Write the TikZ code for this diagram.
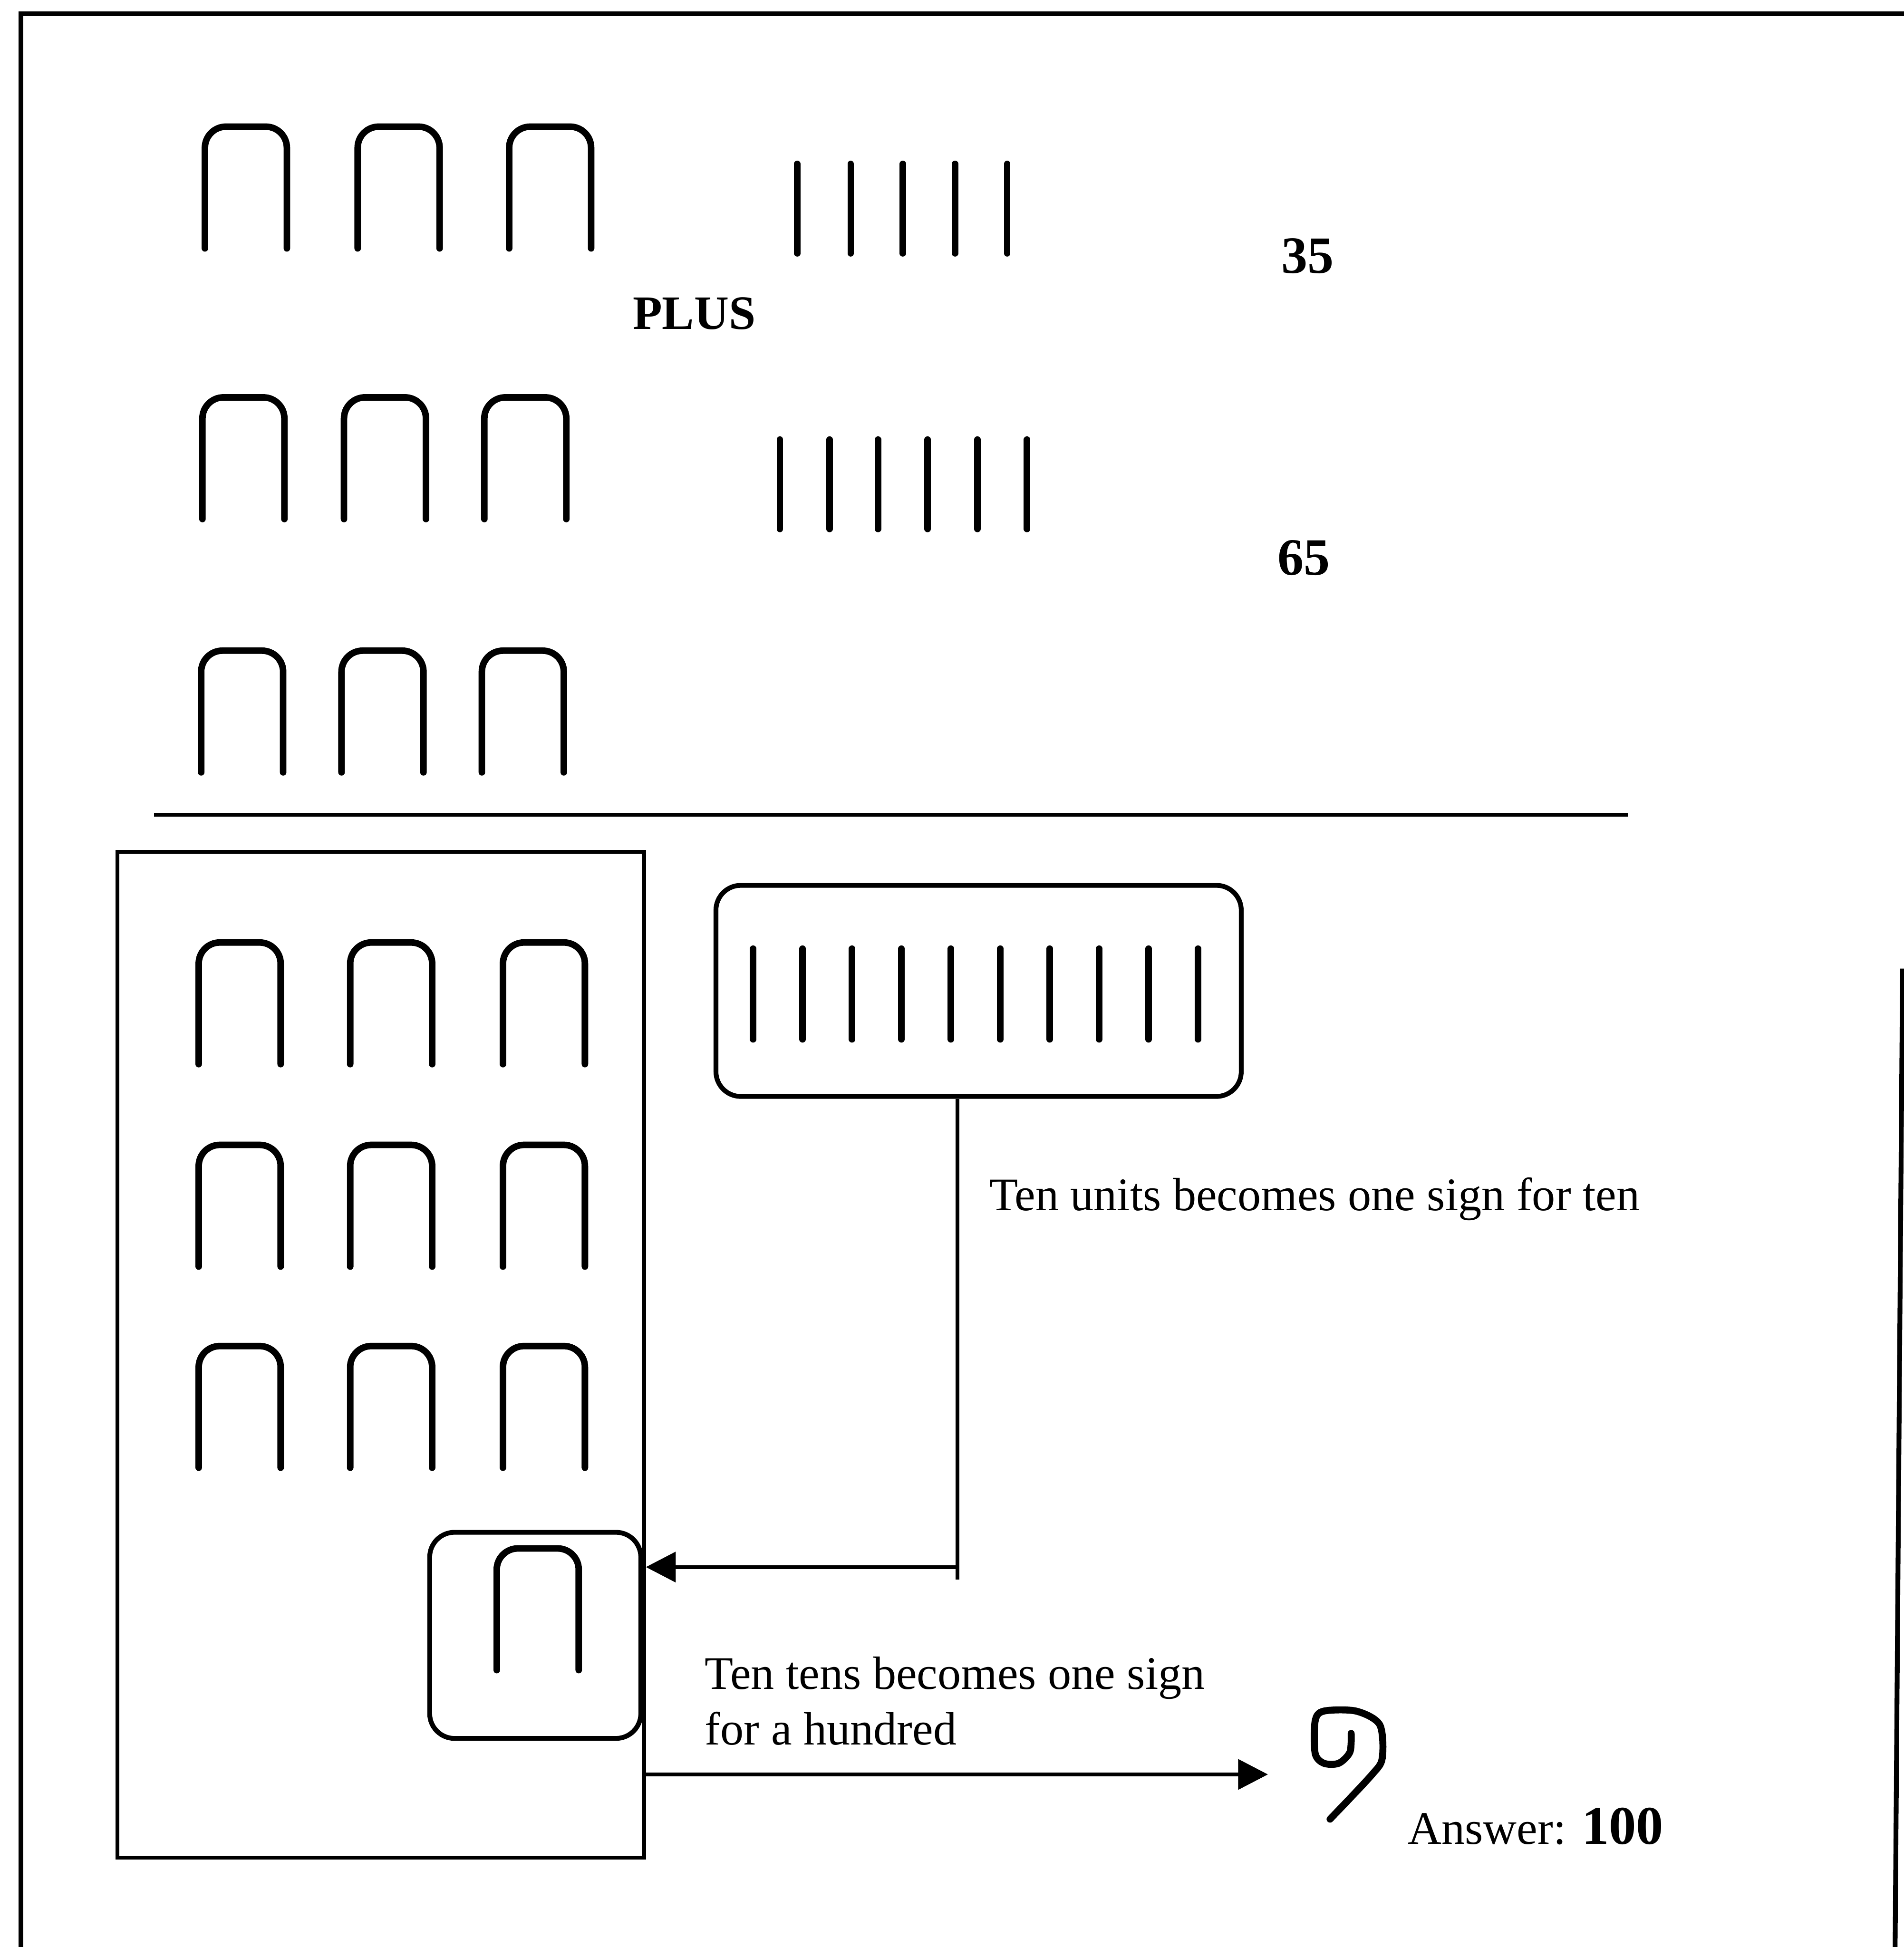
\documentclass[tikz,border=0pt]{standalone}
\usepackage{fontspec}
\setmainfont{Liberation Serif}
\usepackage{tikz}
\usetikzlibrary{positioning, arrows.meta}

\tikzset{
    tens/.pic={\draw[sign, rounded corners=1.7mm] (0,0) -- (0,-98) -- (66,-98) -- (66,0);}
}

\begin{document}
\begin{tikzpicture}[x=0.1mm, y=-0.1mm,
    sign/.style={line width=1.5pt, line cap=round},
    link/.style={line width=0.9pt},
    arr/.style={link, -{Triangle[length=2.4mm, width=2.4mm]}},
    unitbox/.style={draw, line width=1.1pt, rounded corners=2mm, minimum width=42.3mm, minimum height=17mm},
    hundbox/.style={draw, line width=1.1pt, rounded corners=2mm, minimum width=17mm, minimum height=16.6mm},
    tensbox/.style={draw, line width=0.9pt, minimum width=42.4mm, minimum height=81mm},
    num/.style={inner sep=0pt, font=\fontsize{12}{14}\selectfont\bfseries},
    note/.style={inner sep=0pt, align=left, font=\fontsize{10.7}{12.7}\selectfont}]
    \useasboundingbox (0,0) rectangle (1533,1568);
    \draw[line width=1.1pt] (1533,11) -- (17,11) -- (17,1568);
    \draw[line width=1.1pt] (1532,780) -- (1526,1568);

    % 35 plus 65
    \foreach \x in {165,288,410} \pic at (\x,200) {tens};
    \foreach \x in {642,685,727,769,811} \draw[sign] (\x,132) -- (\x,204);
    \node[num, anchor=base] (n35) at (1053,220) {35};
    \node[num, anchor=base, font=\fontsize{11}{13}\selectfont\bfseries] (plus) at (559,265) {PLUS};
    \foreach \x in {163,277,390} \pic at (\x,418) {tens};
    \foreach \x in {628,668,707,747,787,827} \draw[sign] (\x,354) -- (\x,426);
    \node[num, anchor=base] (n65) at (1050,463) {65};
    \foreach \x in {162,275,388} \pic at (\x,622) {tens};
    \draw[link] (124,656) -- (1311,656);

    % regrouping
    \node[tensbox] (tenbox) at (306.5,1091) {};
    \foreach \y in {857,1020,1182}
        \foreach \x in {160,282,405} \pic at (\x,\y) {tens};
    \node[unitbox] (units) at (788,798) {};
    \foreach \i in {0,...,9} \draw[sign] (606.5+39.8*\i,764) -- (606.5+39.8*\i,837);
    \node[hundbox] (hund) at (431,1317) {};
    \pic at (400,1345) {tens};

    \coordinate (turn) at (771,1262);
    \coordinate (drop) at (771,1272);
    \draw[link] (units.south -| turn) -- (drop);
    \draw[arr] (turn) -- (turn -| tenbox.east);
    \node[note, anchor=base west] (unitnote) at (796,975) {Ten units becomes one sign for ten};
    \node[note, anchor=base west] (tensnote) at (567,1405) {Ten tens becomes one sign\\for a hundred};

    \coordinate (hundred) at (1021,1429);
    \draw[arr] (tenbox.east |- hundred) -- (hundred);
    \draw[sign, line width=1.6pt] plot[smooth, tension=0.5] coordinates {(1088,1396) (1087,1411) (1078,1420) (1066,1420) (1059,1412) (1059,1386) (1066,1378) (1092,1378) (1111,1389) (1113,1416) (1104,1430) (1071,1465)};
    \node[note, anchor=base west] (answer) at (1133,1485) {Answer: {\fontsize{12.5}{14}\selectfont\bfseries 100}};
\end{tikzpicture}
\end{document}
